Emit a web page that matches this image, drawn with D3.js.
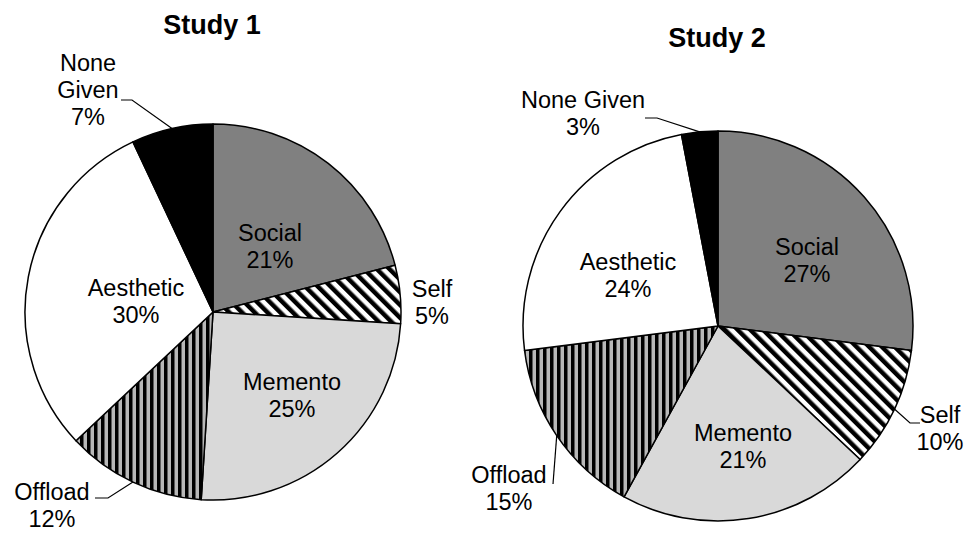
<!DOCTYPE html>
<html>
<head>
<meta charset="utf-8">
<script src="https://cdn.jsdelivr.net/npm/d3@7/dist/d3.min.js"></script>
<style>
  html, body { margin: 0; padding: 0; background: #fff; }
  svg { display: block; font-family: "Liberation Sans", Arial, sans-serif; }
</style>
</head>
<body>
<svg id="chart" width="970" height="533"></svg>
<script>
// Reasons given, share of responses (%), clockwise from 12 o'clock
const categories = ["Social", "Self", "Memento", "Offload", "Aesthetic", "None Given"];
const study1Values = [21, 5, 25, 12, 30, 7];
const study2Values = [27, 10, 21, 15, 24, 3];
const chartTitles = ["Study 1", "Study 2"];

// Fill for each category (solid greys or hatch patterns)
const fills = {
  "Social": "#808080",
  "Self": "url(#diag)",
  "Memento": "#d9d9d9",
  "Offload": "url(#vert)",
  "Aesthetic": "#ffffff",
  "None Given": "#000000"
};

// Placement of each pie and its labels
const layouts = [
  {
    cx: 213, cy: 312, r: 188, titleX: 212, titleY: 34,
    labels: {
      "Social":     { x: 270, y: 241, lines: ["Social"] },
      "Self":       { x: 432, y: 297, lines: ["Self"] },
      "Memento":    { x: 292, y: 390, lines: ["Memento"] },
      "Offload":    { x: 52,  y: 500, lines: ["Offload"], leader: [[108, 498], [95, 498]] },
      "Aesthetic":  { x: 136, y: 296, lines: ["Aesthetic"] },
      "None Given": { x: 88,  y: 71,  lines: ["None", "Given"], leader: [[132, 100], [121, 100]] }
    }
  },
  {
    cx: 718, cy: 326, r: 195, titleX: 717, titleY: 47,
    labels: {
      "Social":     { x: 807, y: 255, lines: ["Social"] },
      "Self":       { x: 940, y: 423, lines: ["Self"], leader: [[910, 423], [920, 423]] },
      "Memento":    { x: 743, y: 441, lines: ["Memento"] },
      "Offload":    { x: 509, y: 483, lines: ["Offload"], leader: [[553, 484]] },
      "Aesthetic":  { x: 628, y: 270, lines: ["Aesthetic"] },
      "None Given": { x: 583, y: 108, lines: ["None Given"], leader: [[657, 118], [645, 118]] }
    }
  }
];

const svg = d3.select("#chart");
const defs = svg.append("defs");

// Black / white downward diagonal stripes
const diag = defs.append("pattern")
  .attr("id", "diag")
  .attr("patternUnits", "userSpaceOnUse")
  .attr("width", 9).attr("height", 9)
  .attr("patternTransform", "rotate(-45)");
diag.append("rect").attr("width", 9).attr("height", 9).attr("fill", "#fff");
diag.append("rect").attr("width", 4.5).attr("height", 9).attr("fill", "#000");

// Black / grey vertical stripes
const vert = defs.append("pattern")
  .attr("id", "vert")
  .attr("patternUnits", "userSpaceOnUse")
  .attr("width", 7).attr("height", 7);
vert.append("rect").attr("width", 7).attr("height", 7).attr("fill", "#b8b8b8");
vert.append("rect").attr("width", 3.5).attr("height", 7).attr("fill", "#000");

const pie = d3.pie().sort(null).value(d => d.value);
const lineHeight = 27;

[study1Values, study2Values].forEach((values, i) => {
  const L = layouts[i];
  const data = categories.map((c, k) => ({ name: c, value: values[k] }));
  const arcs = pie(data);
  const arc = d3.arc().innerRadius(0).outerRadius(L.r);

  // Title
  svg.append("text")
    .attr("x", L.titleX).attr("y", L.titleY)
    .attr("text-anchor", "middle")
    .attr("font-weight", "bold")
    .attr("font-size", 27)
    .attr("fill", "#000")
    .text(chartTitles[i]);

  const g = svg.append("g").attr("transform", `translate(${L.cx},${L.cy})`);

  g.selectAll("path.slice")
    .data(arcs)
    .join("path")
    .attr("class", "slice")
    .attr("d", arc)
    .attr("fill", d => fills[d.data.name])
    .attr("stroke", "#000")
    .attr("stroke-width", 1.5)
    .attr("stroke-linejoin", "round");

  // Leader lines: from the slice's mid-angle on the rim to the label
  arcs.forEach(d => {
    const lab = L.labels[d.data.name];
    if (!lab.leader) return;
    const mid = (d.startAngle + d.endAngle) / 2;
    const start = [L.cx + L.r * Math.sin(mid), L.cy - L.r * Math.cos(mid)];
    const pts = [start].concat(lab.leader);
    svg.append("path")
      .attr("d", d3.line()(pts))
      .attr("fill", "none")
      .attr("stroke", "#000")
      .attr("stroke-width", 1.2);
  });

  // Labels: category name line(s) then the percentage
  arcs.forEach(d => {
    const lab = L.labels[d.data.name];
    const lines = lab.lines.concat([d.data.value + "%"]);
    const t = svg.append("text")
      .attr("text-anchor", "middle")
      .attr("font-size", 23.5)
      .attr("fill", "#000");
    lines.forEach((s, j) => {
      t.append("tspan")
        .attr("x", lab.x)
        .attr("y", lab.y + j * lineHeight)
        .text(s);
    });
  });
});
</script>
</body>
</html>
